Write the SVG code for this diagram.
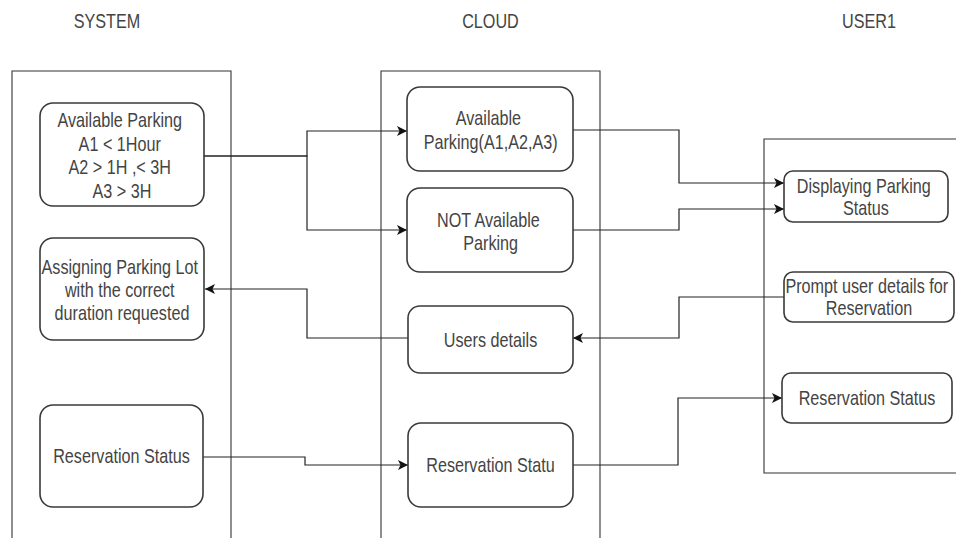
<svg xmlns="http://www.w3.org/2000/svg" width="956" height="538" viewBox="0 0 956 538">
  <defs>
    <style>
      .lane { fill: none; stroke: #333; stroke-width: 1.1; }
      .node { fill: #fff; stroke: #3a3a3a; stroke-width: 1.6; }
      .t { font-family: "Liberation Sans", Arial, sans-serif; font-size: 19.5px; fill: #444; text-anchor: middle; }
      .conn { fill: none; stroke: #222; stroke-width: 1.2; }
    </style>
    <marker id="arr" markerUnits="userSpaceOnUse" markerWidth="11" markerHeight="10" refX="10" refY="5" orient="auto">
      <path d="M0,0 L10,5 L0,10 L2.5,5 Z" fill="#111"/>
    </marker>
  </defs>
  <rect width="956" height="538" fill="#fff"/>

  <g id="lanes">
    <path class="lane" d="M12,540 V71 H231 V540"/>
    <path class="lane" d="M381,540 V71 H600 V540"/>
    <path class="lane" d="M957,139 H764 V473 H957"/>
    <text class="t" x="107" y="28" transform="matrix(0.83 0 0 1 18.19 0)">SYSTEM</text>
    <text class="t" x="490.5" y="28" transform="matrix(0.83 0 0 1 83.39 0)">CLOUD</text>
    <text class="t" x="869" y="28" transform="matrix(0.83 0 0 1 147.73 0)">USER1</text>
  </g>

  <g id="connectors">
    <path class="conn" d="M204,156 H307 V131 H407" marker-end="url(#arr)"/>
    <path class="conn" d="M204,156 H307 V230 H407" marker-end="url(#arr)"/>
    <path class="conn" d="M573,130 H679 V183 H784" marker-end="url(#arr)"/>
    <path class="conn" d="M573,230 H679 V209 H784" marker-end="url(#arr)"/>
    <path class="conn" d="M784,297 H679 V338 H573" marker-end="url(#arr)"/>
    <path class="conn" d="M408,338 H307 V289 H205" marker-end="url(#arr)"/>
    <path class="conn" d="M203,457 H305 V465 H408" marker-end="url(#arr)"/>
    <path class="conn" d="M573,465 H678 V398 H782" marker-end="url(#arr)"/>
  </g>

  <g id="sys-available-parking">
    <rect class="node" x="40" y="103" width="164" height="103" rx="13"/>
    <text class="t" transform="matrix(0.83 0 0 1 20.74 0)">
      <tspan x="122" y="127.5">Available Parking</tspan>
      <tspan x="122" y="151">A1 &lt; 1Hour</tspan>
      <tspan x="122" y="174.5">A2 &gt; 1H ,&lt; 3H</tspan>
      <tspan x="122" y="198">A3 &gt; 3H</tspan>
    </text>
  </g>

  <g id="sys-assigning">
    <rect class="node" x="40" y="238" width="164" height="102" rx="13"/>
    <text class="t" transform="matrix(0.83 0 0 1 20.74 0)">
      <tspan x="122" y="274.5">Assigning Parking Lot</tspan>
      <tspan x="122" y="297.5">with the correct</tspan>
      <tspan x="122" y="320.5">duration requested</tspan>
    </text>
  </g>

  <g id="sys-reservation-status">
    <rect class="node" x="40" y="405" width="163" height="102" rx="13"/>
    <text class="t" x="121.5" y="463.5" transform="matrix(0.83 0 0 1 20.66 0)">Reservation Status</text>
  </g>

  <g id="cloud-available-parking">
    <rect class="node" x="407" y="87" width="166" height="84" rx="13"/>
    <text class="t" transform="matrix(0.83 0 0 1 83.98 0)">
      <tspan x="490" y="125.5">Available</tspan>
      <tspan x="490" y="149">Parking(A1,A2,A3)</tspan>
    </text>
  </g>

  <g id="cloud-not-available">
    <rect class="node" x="407" y="188" width="166" height="84" rx="13"/>
    <text class="t" transform="matrix(0.83 0 0 1 83.98 0)">
      <tspan x="490" y="227">NOT Available</tspan>
      <tspan x="490" y="250">Parking</tspan>
    </text>
  </g>

  <g id="cloud-users-details">
    <rect class="node" x="408" y="306" width="165" height="67" rx="12"/>
    <text class="t" x="490.5" y="347" transform="matrix(0.83 0 0 1 83.39 0)">Users details</text>
  </g>

  <g id="cloud-reservation-statu">
    <rect class="node" x="408" y="423" width="165" height="84" rx="13"/>
    <text class="t" x="490.5" y="472" transform="matrix(0.83 0 0 1 83.39 0)">Reservation Statu</text>
  </g>

  <g id="user-displaying-status">
    <rect class="node" x="784" y="171" width="164" height="51" rx="9"/>
    <text class="t" transform="matrix(0.83 0 0 1 147.22 0)">
      <tspan x="866" y="193">Displaying Parking</tspan>
      <tspan x="866" y="215">Status</tspan>
    </text>
  </g>

  <g id="user-prompt-details">
    <rect class="node" x="784" y="272" width="170" height="50" rx="9"/>
    <text class="t" transform="matrix(0.83 0 0 1 147.73 0)">
      <tspan x="869" y="293">Prompt user details for</tspan>
      <tspan x="869" y="315.5">Reservation</tspan>
    </text>
  </g>

  <g id="user-reservation-status">
    <rect class="node" x="782" y="373" width="170" height="50" rx="9"/>
    <text class="t" x="867" y="405" transform="matrix(0.83 0 0 1 147.39 0)">Reservation Status</text>
  </g>
</svg>
